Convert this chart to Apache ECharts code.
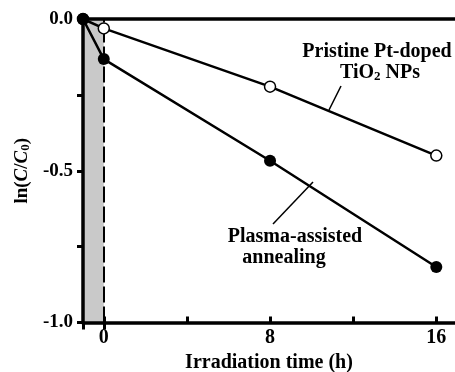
<!DOCTYPE html>
<html>
<head>
<meta charset="utf-8">
<script src="https://cdn.jsdelivr.net/npm/echarts@6/dist/echarts.min.js"></script>
<style>
  html, body { margin: 0; padding: 0; background: #fff; }
  #chart { width: 455px; height: 372px; }
</style>
</head>
<body>
<div id="chart"></div>
<script>
// irradiation time (h); -1 is the dark adsorption step
const times = [-1, 0, 8, 16];
const pristine = [0, -0.031, -0.223, -0.450];
const plasma = [0, -0.132, -0.467, -0.817];
const xTicks = [0, 4, 8, 12, 16];
const xOuterTicks = [-1, 0];
const xLabels = [0, 8, 16];
const yLabels = [0, -0.5, -1];

const font = 'Liberation Serif';
let chart = echarts.init(document.getElementById('chart'));

const pair = (ys) => times.map((t, i) => [t, ys[i]]);

let option = {
  animation: false,
  grid: { left: 83, right: 0, top: 19, bottom: 49.5, outerBoundsMode: 'none' },
  xAxis: [
    {
      type: 'value', min: -1, max: 16.9,
      splitLine: { show: false },
      axisLine: { onZero: false, lineStyle: { color: '#000', width: 3.5 } },
      axisTick: { inside: true, length: 6, customValues: xTicks, lineStyle: { color: '#000', width: 3 } },
      axisLabel: { customValues: xLabels, margin: 5, color: '#000', fontFamily: font, fontWeight: 'bold', fontSize: 20 },
      name: 'Irradiation time (h)', nameLocation: 'middle', nameGap: 22,
      nameTextStyle: { color: '#000', fontFamily: font, fontWeight: 'bold', fontSize: 20 }
    },
    {
      type: 'value', position: 'top', min: -1, max: 16.9,
      splitLine: { show: false },
      axisLine: { onZero: false, lineStyle: { color: '#000', width: 3.5 } },
      axisTick: { show: false }, axisLabel: { show: false }
    },
    {
      // short ticks below the axis at the dark step edges
      type: 'value', position: 'bottom', min: -1, max: 16.9,
      splitLine: { show: false },
      axisLine: { show: false, onZero: false },
      axisTick: { show: true, length: 7, customValues: xOuterTicks, lineStyle: { color: '#000', width: 3 } },
      axisLabel: { show: false }
    }
  ],
  yAxis: {
    type: 'value', min: -1, max: 0, interval: 0.25,
    splitLine: { show: false },
    axisLine: { show: true, onZero: false, lineStyle: { color: '#000', width: 3.5 } },
    axisTick: { show: true, length: 6, lineStyle: { color: '#000', width: 3 } },
    axisLabel: {
      customValues: yLabels, margin: 10, color: '#000', fontFamily: font, fontWeight: 'bold', fontSize: 19,
      formatter: (v) => v.toFixed(1)
    },
    name: 'ln({i|C}/{i|C}{s|0})', nameLocation: 'middle', nameRotate: 90, nameGap: 50,
    nameTextStyle: {
      color: '#000', fontFamily: font, fontWeight: 'bold', fontSize: 19,
      rich: {
        i: { fontFamily: font, fontWeight: 'bold', fontStyle: 'italic', fontSize: 19, color: '#000' },
        s: { fontFamily: font, fontWeight: 'bold', fontSize: 13, color: '#000', padding: [7, 0, 0, 0] }
      }
    }
  },
  series: [
    {
      name: 'Pristine Pt-doped TiO2 NPs', type: 'line', data: pair(pristine),
      symbol: 'circle', symbolSize: 11,
      lineStyle: { color: '#000', width: 2.5 },
      itemStyle: { color: '#fff', borderColor: '#000', borderWidth: 1.5 },
      markArea: {
        silent: true, z: 0,
        itemStyle: { color: '#c9c9c9' },
        data: [[{ xAxis: -1, yAxis: 0 }, { xAxis: 0, yAxis: -1 }]]
      },
      markLine: {
        silent: true, z: 1, symbol: 'none', label: { show: false },
        lineStyle: { color: '#000', width: 2, type: [16, 4] },
        data: [{ xAxis: 0 }]
      },
      z: 3
    },
    {
      name: 'Plasma-assisted annealing', type: 'line', data: pair(plasma),
      symbol: 'circle', symbolSize: 12,
      lineStyle: { color: '#000', width: 2.5 },
      itemStyle: { color: '#000' },
      z: 4
    }
  ],
  graphic: [
    { type: 'line', shape: { x1: 341, y1: 86, x2: 329, y2: 110 }, style: { stroke: '#000', lineWidth: 1.5 } },
    { type: 'line', shape: { x1: 273, y1: 224, x2: 313, y2: 182 }, style: { stroke: '#000', lineWidth: 1.5 } },
    {
      type: 'text', x: 377, y: 52,
      style: { text: 'Pristine Pt-doped', fill: '#000', font: 'bold 20px ' + font, align: 'center', verticalAlign: 'middle' }
    },
    {
      type: 'text', x: 380, y: 73,
      style: {
        text: 'TiO{s|2} NPs', fill: '#000', font: 'bold 20px ' + font, align: 'center', verticalAlign: 'middle',
        rich: { s: { font: 'bold 13px ' + font, fill: '#000', padding: [8, 0, 0, 0] } }
      }
    },
    {
      type: 'text', x: 295, y: 237,
      style: { text: 'Plasma-assisted', fill: '#000', font: 'bold 20px ' + font, align: 'center', verticalAlign: 'middle' }
    },
    {
      type: 'text', x: 284, y: 258,
      style: { text: 'annealing', fill: '#000', font: 'bold 20px ' + font, align: 'center', verticalAlign: 'middle' }
    }
  ]
};

option && chart.setOption(option);
</script>
</body>
</html>
